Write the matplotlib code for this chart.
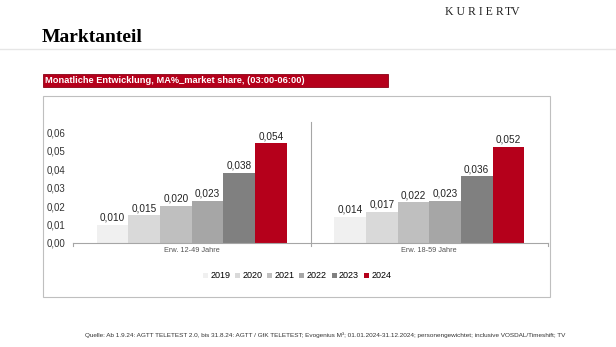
import matplotlib.pyplot as plt
from matplotlib.patches import Rectangle
from matplotlib.lines import Line2D
import numpy as np

# data
categories = ['Erw. 12-49 Jahre', 'Erw. 18-59 Jahre']
years = ['2019', '2020', '2021', '2022', '2023', '2024']
values = {
    '2019': [0.010, 0.014],
    '2020': [0.015, 0.017],
    '2021': [0.020, 0.022],
    '2022': [0.023, 0.023],
    '2023': [0.038, 0.036],
    '2024': [0.054, 0.052],
}
yticks = [0.00, 0.01, 0.02, 0.03, 0.04, 0.05, 0.06]
colors = ['#F0F0F0', '#D9D9D9', '#BFBFBF', '#A6A6A6', '#808080', '#B5001B']

W, H = 616, 347
fig = plt.figure(figsize=(W / 100, H / 100), dpi=100)
fig.patch.set_facecolor('white')

def fx(px):
    return px / W

def fy(py):
    return 1 - py / H

# header
fig.text(fx(42), fy(37), 'Marktanteil', family='Liberation Serif', weight='bold',
         fontsize=14, va='center', ha='left', color='black')
fig.text(fx(445), fy(12), 'K U R I E R', family='Liberation Serif', fontsize=8.5,
         va='center', ha='left', color='#222222')
fig.text(fx(505), fy(12), 'TV', family='Liberation Serif', fontsize=8.5,
         va='center', ha='left', color='#222222')
fig.add_artist(Line2D([0, 1], [fy(49), fy(49)], color='#E6E6E6', lw=1))

# red banner
fig.add_artist(Rectangle((fx(43), fy(87)), fx(388) - fx(43), fy(74) - fy(87),
                         facecolor='#B5001B', edgecolor='#8A0014', lw=0.6))
fig.text(fx(45), fy(80.5), 'Monatliche Entwicklung, MA%_market share, (03:00-06:00)',
         color='white', weight='bold', fontsize=6.7, va='center', ha='left',
         family='Liberation Sans')

# chart frame
fig.add_artist(Rectangle((fx(43), fy(297)), fx(550) - fx(43), fy(96) - fy(297),
                         facecolor='none', edgecolor='#BFBFBF', lw=0.8))

# plot area
ax = fig.add_axes([fx(73), fy(243), fx(548) - fx(73), fy(122) - fy(243)])
x = np.arange(len(categories))
n = len(years)
bw = 0.8 / n
for i, yr in enumerate(years):
    pos = x - 0.4 + bw * (i + 0.5)
    ax.bar(pos, values[yr], width=bw, color=colors[i], label=yr, zorder=2)
    for px, v in zip(pos, values[yr]):
        ax.text(px, v + 0.0012, f'{v:.3f}'.replace('.', ','), ha='center', va='bottom',
                fontsize=7.2, color='#222222', family='Liberation Sans')

ax.set_xlim(-0.5, len(categories) - 0.5)
ax.set_ylim(0, 0.0655)
ax.set_yticks(yticks)
ax.set_yticklabels([f'{t:.2f}'.replace('.', ',') for t in yticks],
                   fontsize=7.0, color='#333333', family='Liberation Sans')
ax.tick_params(axis='y', length=0, pad=5.5)
ax.set_xticks(x)
ax.set_xticklabels(categories, fontsize=5.3, color='#555555', family='Liberation Sans')
ax.tick_params(axis='x', length=0, pad=3)
for s in ['top', 'right', 'left']:
    ax.spines[s].set_visible(False)
ax.spines['bottom'].set_color('#A6A6A6')
ax.spines['bottom'].set_linewidth(0.8)
# category separators
for b in [-0.5, 0.5, 1.5]:
    top = 0.0655 if b == 0.5 else 0.0
    ax.plot([b, b], [-0.0015, top], color='#A6A6A6', lw=0.8, clip_on=False, zorder=1)

# legend
leg = fig.legend(loc='center', bbox_to_anchor=(fx(297), fy(276)), ncol=6, frameon=False,
                 handlelength=0.55, handleheight=0.55, handletextpad=0.25,
                 columnspacing=0.55, prop={'family': 'Liberation Sans', 'size': 6.5})

# source line
fig.text(fx(325), fy(335),
         'Quelle: Ab 1.9.24: AGTT TELETEST 2.0, bis 31.8.24: AGTT / GfK TELETEST; Evogenius M\u00b3; '
         '01.01.2024-31.12.2024; personengewichtet; inclusive VOSDAL/Timeshift; TV',
         fontsize=4.6, ha='center', va='center', color='#333333', family='Liberation Sans')

fig.savefig('out.png', dpi=100)
